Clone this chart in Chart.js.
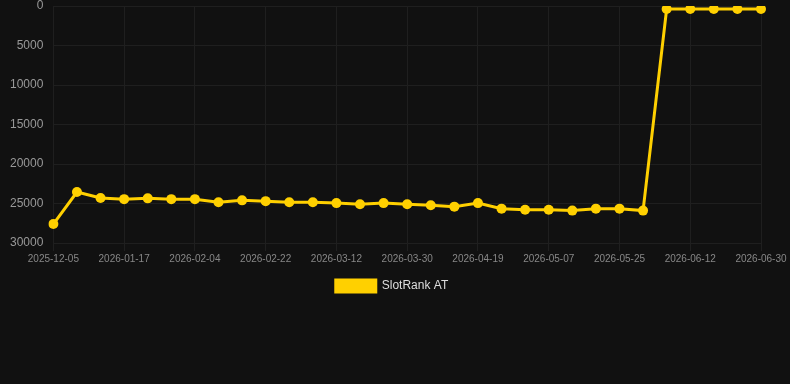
<!DOCTYPE html>
<html>
<head>
<meta charset="utf-8">
<script src="https://cdn.jsdelivr.net/npm/chart.js@4/dist/chart.umd.min.js"></script>
<style>
  html, body { margin: 0; padding: 0; background: #111111; }
  #wrap { position: relative; width: 790px; height: 384px; }
</style>
</head>
<body>
<div id="wrap"><canvas id="c"></canvas></div>
<script>
const categories = [
  "2025-12-05", "2026-01-05", "2026-01-11", "2026-01-17", "2026-01-23", "2026-01-29",
  "2026-02-04", "2026-02-10", "2026-02-16", "2026-02-22", "2026-02-28", "2026-03-06",
  "2026-03-12", "2026-03-18", "2026-03-24", "2026-03-30", "2026-04-05", "2026-04-12",
  "2026-04-19", "2026-04-25", "2026-05-01", "2026-05-07", "2026-05-13", "2026-05-19",
  "2026-05-25", "2026-05-31", "2026-06-06", "2026-06-12", "2026-06-18", "2026-06-24",
  "2026-06-30"
];
const seriesName = "SlotRank AT";
const rankValues = [
  27600, 23550, 24300, 24450, 24350, 24450,
  24450, 24850, 24600, 24700, 24850, 24850,
  24950, 25100, 24950, 25100, 25230, 25400,
  24950, 25650, 25780, 25780, 25900, 25650,
  25650, 25900, 380, 380, 380, 380,
  380
];
const yTicks = [0, 5000, 10000, 15000, 20000, 25000, 30000];

const gold = "#FFD000";
const fam = "Liberation Sans, Arial, sans-serif";
new Chart(document.getElementById("c"), {
  type: "line",
  data: {
    labels: categories,
    datasets: [{
      label: seriesName,
      data: rankValues,
      borderColor: gold,
      backgroundColor: gold,
      pointBackgroundColor: gold,
      pointBorderColor: gold,
      borderWidth: 3,
      pointRadius: 5,
      pointBorderWidth: 0,
      tension: 0
    }]
  },
  options: {
    responsive: true,
    maintainAspectRatio: false,
    animation: false,
    layout: { padding: { left: 0, right: 6, top: 0, bottom: 82 } },
    plugins: {
      legend: {
        position: "bottom",
        labels: {
          color: "#dddddd",
          font: { family: fam, size: 12 },
          boxWidth: 40,
          boxHeight: 12,
          padding: 5
        }
      },
      tooltip: { enabled: false }
    },
    scales: {
      x: {
        grid: { color: "#1f1f1f", drawTicks: true, tickLength: 8 },
        border: { color: "#1f1f1f" },
        afterFit: (s) => { s.paddingRight = 29; s.height += 8; },
        ticks: {
          color: "#888888",
          font: { family: fam, size: 10 },
          maxRotation: 0,
          autoSkip: true,
          maxTicksLimit: 11,
          padding: 2
        }
      },
      y: {
        reverse: true,
        min: 0,
        max: 30000,
        afterBuildTicks: (axis) => { axis.ticks = yTicks.map(v => ({ value: v })); },
        afterFit: (s) => { s.paddingTop = 6; },
        grid: { color: "#1f1f1f", drawTicks: false },
        border: { color: "#1f1f1f" },
        ticks: {
          color: "#999999",
          font: { family: fam, size: 12 },
          padding: 10,
          callback: (v) => String(v)
        }
      }
    }
  }
});
</script>
</body>
</html>
